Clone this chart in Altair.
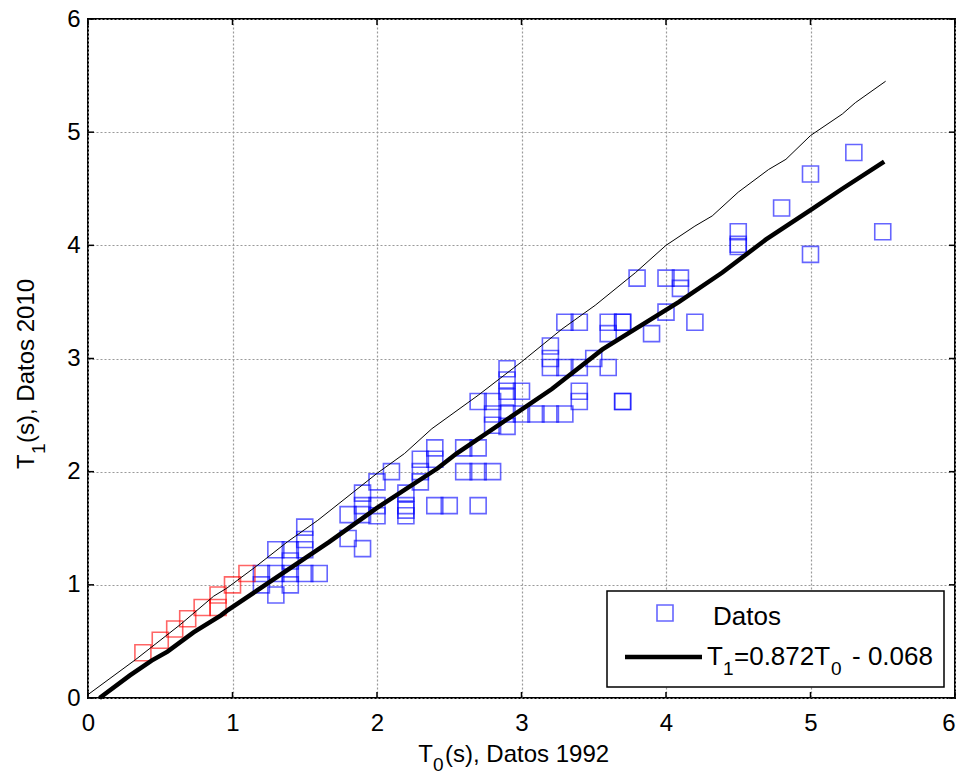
import altair as alt
import pandas as pd

# ---------------- data ----------------
red_x = [0.38, 0.50, 0.60, 0.69, 0.79, 0.90, 0.90, 1.00, 1.10]
red_y = [0.40, 0.51, 0.61, 0.70, 0.80, 0.91, 0.80, 1.00, 1.10]

blue_x = [1.2, 1.2,
          1.3, 1.3, 1.3,
          1.4, 1.4, 1.4, 1.4,
          1.5, 1.5, 1.5, 1.5,
          1.6,
          1.8, 1.8,
          1.9, 1.9, 1.9, 1.9,
          2.0, 2.0, 2.0,
          2.1,
          2.2, 2.2, 2.2, 2.2,
          2.3, 2.3, 2.3,
          2.4, 2.4, 2.4,
          2.5,
          2.6, 2.6,
          2.7, 2.7, 2.7, 2.7,
          2.8, 2.8, 2.8, 2.8,
          2.9, 2.9, 2.9, 2.9, 2.9, 2.9,
          3.0, 3.0,
          3.1,
          3.2, 3.2, 3.2, 3.2,
          3.3, 3.3, 3.3,
          3.4, 3.4, 3.4, 3.4,
          3.5,
          3.6, 3.6, 3.6,
          3.7, 3.7, 3.7, 3.7,
          3.8,
          3.9,
          4.0, 4.0,
          4.1, 4.1,
          4.2,
          4.5, 4.5, 4.5,
          4.8,
          5.0, 5.0,
          5.3,
          5.5]
blue_y = [1.10, 1.00,
          1.31, 1.10, 0.91,
          1.31, 1.21, 1.10, 1.00,
          1.51, 1.40, 1.31, 1.10,
          1.10,
          1.62, 1.41,
          1.81, 1.70, 1.62, 1.32,
          1.91, 1.70, 1.61,
          2.00,
          1.81, 1.70, 1.66, 1.61,
          2.11, 2.00, 1.91,
          2.21, 2.11, 1.70,
          1.70,
          2.21, 2.00,
          2.62, 2.21, 2.00, 1.70,
          2.62, 2.51, 2.41, 2.00,
          2.91, 2.81, 2.71, 2.66, 2.51, 2.40,
          2.71, 2.51,
          2.51,
          3.11, 3.00, 2.92, 2.51,
          3.32, 2.92, 2.51,
          3.32, 2.92, 2.71, 2.62,
          3.00,
          3.32, 3.22, 2.92,
          3.32, 3.32, 2.62, 2.62,
          3.71,
          3.22,
          3.71, 3.41,
          3.71, 3.62,
          3.32,
          4.12, 4.01, 3.99,
          4.33,
          4.63, 3.92,
          4.82,
          4.12]

# thin reference line
thin_x = [0.00, 0.33, 0.64, 0.87, 0.96, 1.15, 1.38, 1.59, 2.00, 2.19, 2.38,
          2.70, 3.00, 3.28, 3.51, 3.79, 4.00, 4.20, 4.32, 4.50, 4.71, 4.83,
          5.00, 5.22, 5.31, 5.52]
thin_y = [0.03, 0.34, 0.65, 0.90, 0.97, 1.15, 1.38, 1.57, 1.985, 2.16, 2.38,
          2.675, 2.97, 3.26, 3.47, 3.76, 4.00, 4.17, 4.26, 4.47, 4.67, 4.76,
          4.97, 5.16, 5.26, 5.45]

# thick fitted line  T1 = 0.872 T0 - 0.068
fit_x = [0.08, 0.29, 0.44, 0.55, 0.73, 0.92, 0.96, 1.24, 1.67, 2.00, 2.42,
         2.55, 3.21, 3.56, 4.09, 4.39, 4.69, 5.01, 5.22, 5.51]
fit_y = [0.00, 0.20, 0.33, 0.41, 0.58, 0.73, 0.77, 1.01, 1.38, 1.68, 2.03,
         2.16, 2.73, 3.08, 3.50, 3.76, 4.05, 4.32, 4.50, 4.74]

tick_values = [0, 1, 2, 3, 4, 5, 6]

x_title = ["T", "0", "(s), Datos 1992"]
y_title = ["T", "1", "(s), Datos 2010"]
legend_labels = ["Datos", "T", "1", "=0.872T", "0", "- 0.068"]

# ---------------- chart ----------------
W, H = 867, 679
FONT = "Liberation Sans"
FS = 24
LFS = 26
SUB = 19

xs = alt.Scale(domain=[0, 6], nice=False, zero=False)
ys = alt.Scale(domain=[0, 6], nice=False, zero=False)

x_axis = alt.Axis(values=tick_values, title=None, grid=True, tickSize=0,
                  labelPadding=13, domain=False, format="d",
                  labelAlign={"expr": "datum.value == 6 ? 'right' : 'center'"})
y_axis = alt.Axis(values=tick_values, title=None, grid=True, tickSize=0,
                  labelPadding=8, domain=False, format="d")


def X(field):
    return alt.X(field, type="quantitative", scale=xs, axis=x_axis, title=None)


def Y(field):
    return alt.Y(field, type="quantitative", scale=ys, axis=y_axis, title=None)


pts = pd.DataFrame({
    "T0": blue_x + red_x,
    "T1": blue_y + red_y,
    "grupo": ["azul"] * len(blue_x) + ["rojo"] * len(red_x),
})

scatter = alt.Chart(pts).mark_point(
    shape="square", size=256, filled=False, strokeWidth=1.6, opacity=0.6
).encode(
    x=X("T0"), y=Y("T1"),
    color=alt.Color("grupo:N",
                    scale=alt.Scale(domain=["azul", "rojo"], range=["#0000ff", "#ff0000"]),
                    legend=None),
)

thin = alt.Chart(pd.DataFrame({"T0": thin_x, "T1": thin_y})).mark_line(
    color="black", strokeWidth=1
).encode(x=X("T0"), y=Y("T1"))

fit = alt.Chart(pd.DataFrame({"T0": fit_x, "T1": fit_y})).mark_line(
    color="black", strokeWidth=4.5
).encode(x=X("T0"), y=Y("T1"))

tdf = pd.DataFrame({"T0": tick_values, "T1": tick_values})
tick_len = 6
xt_bot = alt.Chart(tdf).mark_rule(color="black", strokeWidth=1.5).encode(
    x=X("T0"), y=alt.value(H), y2=alt.value(H - tick_len))
xt_top = alt.Chart(tdf).mark_rule(color="black", strokeWidth=1.5).encode(
    x=X("T0"), y=alt.value(0), y2=alt.value(tick_len))
yt_left = alt.Chart(tdf).mark_rule(color="black", strokeWidth=1.5).encode(
    y=Y("T1"), x=alt.value(0), x2=alt.value(tick_len))
yt_right = alt.Chart(tdf).mark_rule(color="black", strokeWidth=1.5).encode(
    y=Y("T1"), x=alt.value(W), x2=alt.value(W - tick_len))

one = pd.DataFrame({"a": [0]})


def txt(label, x, y, size=FS, align="left", angle=0):
    kw = dict(align=align, baseline="alphabetic", font=FONT, fontSize=size, color="black")
    if angle:
        kw["angle"] = angle
    return alt.Chart(one).mark_text(text=label, **kw).encode(x=alt.value(x), y=alt.value(y))


# axis titles (with subscripts)
xt1 = txt(x_title[0], 345, 743, align="right")
xt2 = txt(x_title[1], 345, 752, size=SUB)
xt3 = txt(x_title[2], 357, 743)

yt1 = txt(y_title[0], -54, 450, angle=270)
yt2 = txt(y_title[1], -43, 435, size=SUB, angle=270)
yt3 = txt(y_title[2], -54, 424, angle=270)

# legend (plot-pixel placement of the legend frame and its entries)
leg_box = alt.Chart(one).mark_rect(fill="white", stroke="black", strokeWidth=1.5).encode(
    x=alt.value(519), x2=alt.value(856), y=alt.value(572), y2=alt.value(668))
leg_sq = alt.Chart(one).mark_point(shape="square", size=256, filled=False,
                                   strokeWidth=1.6, color="#0000ff", opacity=0.6).encode(
    x=alt.value(577), y=alt.value(594))
leg_line = alt.Chart(one).mark_rule(color="black", strokeWidth=4.5).encode(
    x=alt.value(537), x2=alt.value(614), y=alt.value(638))
l1 = txt(legend_labels[0], 625, 606, size=LFS)
l2 = txt(legend_labels[1], 635, 646, size=LFS, align="right")
l3 = txt(legend_labels[2], 635, 656, size=SUB)
l4 = txt(legend_labels[3], 646, 646, size=LFS)
l5 = txt(legend_labels[4], 743, 656, size=SUB)
l6 = txt(legend_labels[5], 764, 646, size=LFS)

chart = alt.layer(
    scatter, thin, fit, xt_bot, xt_top, yt_left, yt_right,
    xt1, xt2, xt3, yt1, yt2, yt3,
    leg_box, leg_sq, leg_line, l1, l2, l3, l4, l5, l6,
).properties(
    width=W, height=H,
    padding={"left": 80, "top": 11, "right": 1, "bottom": 80},
    autosize=alt.AutoSizeParams(type="none"),
).configure_view(
    stroke="black", strokeWidth=2
).configure_axis(
    labelFont=FONT, labelFontSize=FS, labelColor="black",
    gridColor="#9a9a9a", gridDash=[2, 2], gridWidth=1.2, gridOpacity=1,
)

chart.save("out.html", embed_options={"renderer": "svg", "actions": False})
